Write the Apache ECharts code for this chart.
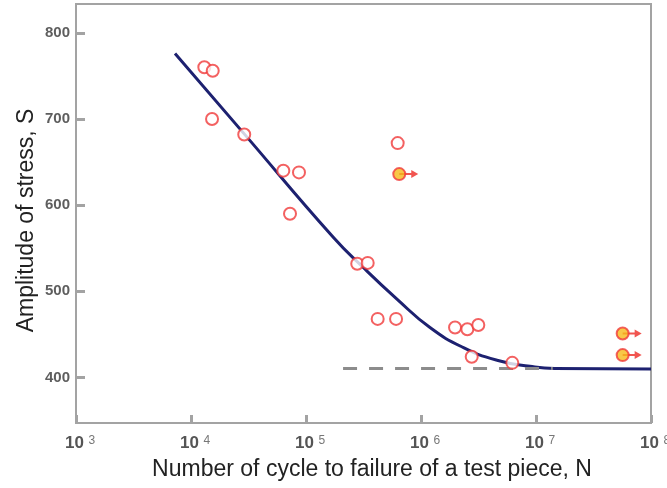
<!DOCTYPE html>
<html>
<head>
<meta charset="utf-8">
<script src="https://cdn.jsdelivr.net/npm/echarts@6/dist/echarts.min.js"></script>
<style>
  html, body { margin: 0; padding: 0; background: #fff; }
  #chart { width: 667px; height: 488px; }
</style>
</head>
<body>
<div id="chart"></div>
<script>
// y tick labels
const stressTicks = [400, 500, 600, 700, 800]

// specimens that failed: cycles N, stress amplitude S
const failedN = [13060, 15450, 15240, 29040, 63500, 86900, 72600, 279000, 344000, 420000, 607000, 627000, 1977000, 2530000, 3150000, 2761000, 6220000]
const failedS = [760, 756, 700, 682, 640, 638, 590, 532, 533, 468, 468, 672, 458, 456, 461, 424, 417]

// run-outs (no failure, arrow to the right)
const runoutN = [647000, 56700000, 56700000]
const runoutS = [636, 451, 426]

// fitted S-N curve
const curveN = [7260, 28900, 171800, 313000, 618000, 1197000, 2317000, 4580000, 8870000, 14500000, 100000000]
const curveS = [776, 683, 563, 528, 491, 458, 435, 420, 413, 410.5, 410]

// fatigue limit (dashed)
const limitN = [210000, 14000000]
const limitS = [410.5, 410.5]

const zip = (a, b) => a.map((v, i) => [v, b[i]])

const axisGray = '#a3a3a3'
const font = 'Liberation Sans, Arial, sans-serif'

const chart = echarts.init(document.getElementById('chart'))

chart.setOption({
  animation: false,
  grid: {
    left: 76,
    right: 16,
    top: 4,
    bottom: 65,
    outerBoundsMode: 'none',
    containLabel: false,
    show: true,
    borderColor: axisGray,
    borderWidth: 2
  },
  xAxis: {
    type: 'log',
    logBase: 10,
    min: 1000,
    max: 100000000,
    name: 'Number of cycle to failure of a test piece, N',
    nameLocation: 'middle',
    nameGap: 35,
    nameTextStyle: {
      fontSize: 23,
      color: '#222',
      fontFamily: font,
      padding: [0, 0, 0, 17]
    },
    axisLine: { lineStyle: { color: axisGray, width: 2 } },
    axisTick: { inside: true, length: 8, lineStyle: { color: axisGray, width: 3 } },
    splitLine: { show: false },
    axisLabel: {
      margin: 12,
      showMinLabel: true,
      showMaxLabel: true,
      hideOverlap: false,
      formatter: (val) => '{p| }{b|10}{s|' + Math.round(Math.log10(val)) + '}',
      rich: {
        p: { width: 10 },
        b: { fontSize: 17, fontWeight: 'bold', color: '#555', fontFamily: font },
        s: { fontSize: 12, color: '#777', fontFamily: font, width: 10, padding: [0, 0, 0, 3], verticalAlign: 'top' }
      }
    }
  },
  yAxis: {
    type: 'value',
    min: 347.2,
    max: 833.4,
    name: 'Amplitude of stress, S',
    nameLocation: 'middle',
    nameGap: 38,
    nameMoveOverlap: false,
    nameTextStyle: {
      fontSize: 23,
      color: '#222',
      fontFamily: font,
      padding: [0, 14, 0, 0]
    },
    axisLine: { show: true, lineStyle: { color: axisGray, width: 2 } },
    axisTick: {
      show: true,
      inside: true,
      length: 9,
      customValues: stressTicks,
      lineStyle: { color: axisGray, width: 3 }
    },
    splitLine: { show: false },
    axisLabel: {
      margin: 6,
      customValues: stressTicks,
      fontSize: 15,
      fontWeight: 'bold',
      color: '#5e5e5e',
      fontFamily: font
    }
  },
  series: [
    {
      name: 'S-N curve',
      type: 'line',
      data: zip(curveN, curveS),
      smooth: 0.5,
      showSymbol: false,
      lineStyle: { color: '#1d2170', width: 3 },
      z: 2
    },
    {
      name: 'Fatigue limit',
      type: 'line',
      data: zip(limitN, limitS),
      showSymbol: false,
      lineStyle: { color: '#8c8c8c', width: 3, type: [14, 12] },
      z: 3
    },
    {
      name: 'Failed',
      type: 'scatter',
      data: zip(failedN, failedS),
      symbol: 'circle',
      symbolSize: 12,
      itemStyle: { color: '#fff', borderColor: '#f03a3a', borderWidth: 2 },
      z: 4
    },
    {
      name: 'Run-out arrow',
      type: 'scatter',
      data: zip(runoutN, runoutS),
      symbol: 'path://M0,3H12V0L19,4L12,8V5H0Z',
      symbolKeepAspect: false,
      symbolSize: [19, 8],
      symbolOffset: [9.5, 0],
      itemStyle: { color: '#ee2a24' },
      z: 4
    },
    {
      name: 'Run-out',
      type: 'scatter',
      data: zip(runoutN, runoutS),
      symbol: 'circle',
      symbolSize: 12,
      itemStyle: { color: '#f6b919', borderColor: '#f03a3a', borderWidth: 2 },
      z: 5
    }
  ]
})
</script>
</body>
</html>
